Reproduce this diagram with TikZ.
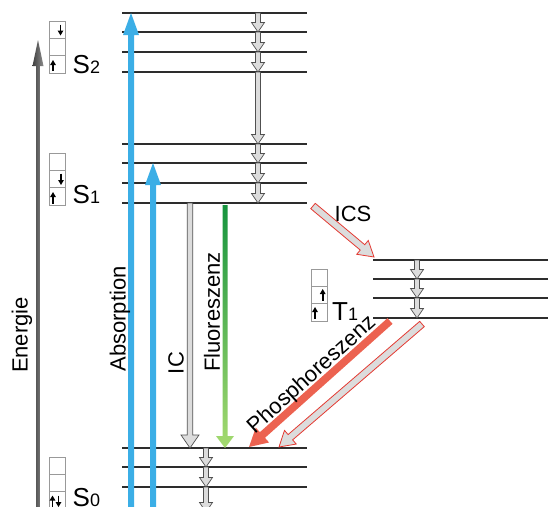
\documentclass[tikz,border=0pt]{standalone}
\usepackage{fontspec}
\setmainfont{Liberation Sans}
\usepackage{xcolor}
\usepackage{tikz}
\usetikzlibrary{calc}
\usetikzlibrary{arrows.meta}

\definecolor{absblue}{RGB}{59,174,230}
\definecolor{phosred}{RGB}{236,98,80}
\definecolor{icsred}{RGB}{228,58,50}
\definecolor{fluodark}{RGB}{22,148,62}
\definecolor{fluolight}{RGB}{165,218,112}
\definecolor{levelgray}{RGB}{45,45,45}
\definecolor{hollowfill}{RGB}{220,220,220}
\definecolor{hollowedge}{RGB}{80,80,80}

% arrow drawn as a closed outline: shaft half width / head half width / head length
\tikzset{
    arrow body/.style args={#1/#2/#3}{
        to path={
            ($(\tikztostart)!#1!90:(\tikztotarget)$)
            -- ($($(\tikztotarget)!#3!(\tikztostart)$)!#1!90:(\tikztotarget)$)
            -- ($($(\tikztotarget)!#3!(\tikztostart)$)!#2!90:(\tikztotarget)$)
            -- (\tikztotarget)
            -- ($($(\tikztotarget)!#3!(\tikztostart)$)!#2!-90:(\tikztotarget)$)
            -- ($($(\tikztotarget)!#3!(\tikztostart)$)!#1!-90:(\tikztotarget)$)
            -- ($(\tikztostart)!#1!-90:(\tikztotarget)$) -- cycle
        }
    }
}

\begin{document}
\begin{tikzpicture}[x=1pt,y=-1pt]
    \tikzstyle{level}=[line width=1.8pt,color=levelgray]
    \tikzstyle{axis}=[arrow body=1.8pt/5.5pt/26pt,left color=black!75,right color=black!45,draw=none]
    \tikzstyle{absorb}=[arrow body=3pt/8pt/22pt,fill=absblue,draw=none]
    \tikzstyle{vib}=[arrow body=2.5pt/6.5pt/9.5pt,draw=hollowedge,fill=hollowfill,line width=0.7pt]
    \tikzstyle{ic}=[arrow body=2.7pt/9pt/13pt,draw=hollowedge,fill=hollowfill,line width=0.7pt]
    \tikzstyle{fluo}=[arrow body=2.5pt/9pt/12pt,top color=fluodark,bottom color=fluolight,draw=none]
    \tikzstyle{isc}=[arrow body=3.5pt/9pt/15pt,draw=icsred,fill=hollowfill,line width=0.8pt]
    \tikzstyle{phos}=[arrow body=3.8pt/10pt/18pt,fill=phosred,draw=none]
    \tikzstyle{spin cell}=[draw=gray!80,fill=white,line width=0.6pt]
    \tikzstyle{spin}=[-{Triangle[length=5pt,width=5.5pt]},line width=1.7pt,color=black]
    \tikzstyle{label text}=[inner sep=0pt,font=\fontsize{22}{24}\selectfont]
    \tikzstyle{state text}=[inner sep=0pt,anchor=base west,font=\fontsize{26}{26}\selectfont]

    \useasboundingbox (0,0) rectangle (548,506);

    % Energy axis
    \coordinate (E_0) at (38,530);
    \coordinate (E_1) at (38,40);
    \draw[style=axis] (E_0) to (E_1);
    \node[style=label text,rotate=90] (energie) at (22,335) {Energie};

    % Levels
    \foreach \y in {13,32,52,72,144,163,183,203,448,467,487}
        \draw[style=level] (122,\y) -- (307,\y);
    \foreach \y in {260,279,298,318}
        \draw[style=level] (373,\y) -- (548,\y);

    % Spin boxes
    \foreach \bx/\by in {49/21,49/153,311/269,49/457}
        \foreach \k in {0,1,2}
            \draw[style=spin cell] (\bx,\by+17.3*\k) rectangle ++(16,17.3);
    \draw[style=spin] (60.5,24.5) -- (60.5,35.5);
    \draw[style=spin] (53,71) -- (53,60);
    \draw[style=spin] (61,173.5) -- (61,185);
    \draw[style=spin] (53,203.5) -- (53,192);
    \draw[style=spin] (322.7,300.5) -- (322.7,289);
    \draw[style=spin] (315,318.5) -- (315,307);
    \draw[style=spin] (52.5,507) -- (52.5,495.5);
    \draw[style=spin] (58.5,495.5) -- (58.5,507);

    % State labels
    \node[style=state text] (S_2) at (72.5,73) {S{\fontsize{18}{18}\selectfont 2}};
    \node[style=state text] (S_1) at (72.5,203) {S{\fontsize{18}{18}\selectfont 1}};
    \node[style=state text] (T_1) at (332,320) {T{\fontsize{18}{18}\selectfont 1}};
    \node[style=state text] (S_0) at (72.5,506) {S{\fontsize{18}{18}\selectfont 0}};

    % Absorption
    \coordinate (a_1) at (131,530);
    \coordinate (b_1) at (131,13);
    \coordinate (a_2) at (153,530);
    \coordinate (b_2) at (153,163);
    \draw[style=absorb] (a_1) to (b_1);
    \draw[style=absorb] (a_2) to (b_2);
    \node[style=label text,rotate=90] (absorption) at (120,319) {Absorption};

    % Vibrational relaxation
    \foreach \x/\a/\b in {258/13/32,258/32/52,258/52/72,258/72/144,258/144/163,258/163/183,258/183/203,
                          417/260/279,417/279/298,417/298/318,206/448/467,206/467/487,206/487/512}
    {
        \coordinate (v_a) at (\x,\a);
        \coordinate (v_b) at (\x,\b);
        \draw[style=vib] (v_a) to (v_b);
    }

    % IC and fluorescence
    \coordinate (ic_1) at (190,203);
    \coordinate (ic_2) at (190,448);
    \draw[style=ic] (ic_1) to (ic_2);
    \node[style=label text,rotate=90] (ic) at (176,363) {IC};

    \coordinate (f_1) at (225,205);
    \coordinate (f_2) at (225,448);
    \path[style=fluo] (f_1) to (f_2);
    \node[style=label text,rotate=90] (fluoreszenz) at (212,312) {Fluoreszenz};

    % ICS
    \coordinate (isc_1) at (313,206);
    \coordinate (isc_2) at (374,257);
    \draw[style=isc] (isc_1) to (isc_2);
    \node[style=label text] (ics) at (353,214) {ICS};

    % Phosphorescence
    \coordinate (p_1) at (390,321);
    \coordinate (p_2) at (249,447);
    \draw[style=phos] (p_1) to (p_2);
    \coordinate (q_1) at (422,324);
    \coordinate (q_2) at (279,447);
    \draw[style=isc] (q_1) to (q_2);
    \node[style=label text,rotate=42] (phosphoreszenz) at (312,375) {Phosphoreszenz};
\end{tikzpicture}
\end{document}
